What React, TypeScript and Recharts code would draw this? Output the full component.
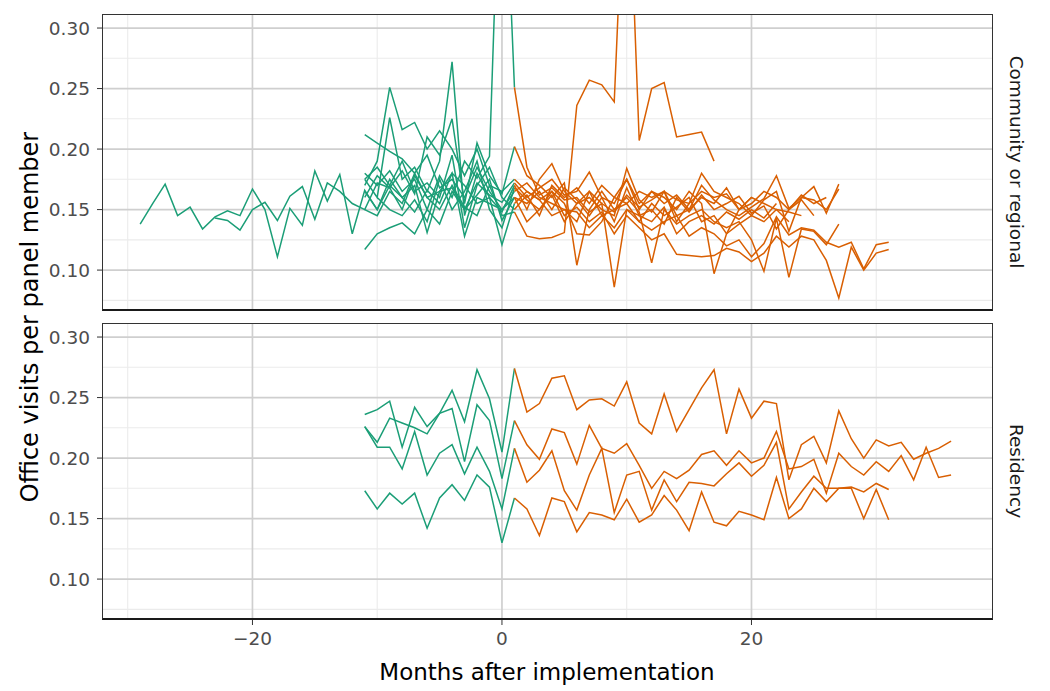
import { LineChart, Line, XAxis, YAxis, CartesianGrid } from "recharts";

const GREEN = "#1b9e77";
const ORANGE = "#d95f02";
const FONT = "'DejaVu Sans', sans-serif";

const X_DOMAIN: [number, number] = [-32.06, 39.36];
const Y_DOMAIN: [number, number] = [0.0662, 0.3116];
const xTicks = [-20, 0, 20];
const xMinor = [-30, -10, 10, 30];
const yTicks = [0.1, 0.15, 0.2, 0.25, 0.3];
const yMinor = [0.075, 0.125, 0.175, 0.225, 0.275];

// ---- Community or regional: before implementation (green) ----
const commPreStart = [-29, -23, -11, -11, -11, -11, -11, -11, -11, -11, -10, -11];
const commPre1 = [0.138, 0.155, 0.171, 0.145, 0.152, 0.134, 0.144, 0.149, 0.145, 0.167, 0.150, 0.111, 0.151, 0.137, 0.182, 0.157, 0.179, 0.130, 0.166, 0.150, 0.170, 0.160, 0.148, 0.166, 0.155, 0.180, 0.128, 0.160, 0.155, 0.150, 0.160];
const commPre2 = [0.143, 0.141, 0.133, 0.150, 0.156, 0.141, 0.161, 0.169, 0.142, 0.172, 0.165, 0.155, 0.150, 0.172, 0.168, 0.150, 0.178, 0.160, 0.165, 0.168, 0.150, 0.172, 0.162, 0.156, 0.172];
const commPre3 = [0.212, 0.205, 0.198, 0.192, 0.180, 0.195, 0.168, 0.175, 0.160, 0.185, 0.165, 0.150, 0.165];
const commPre4 = [0.170, 0.190, 0.251, 0.216, 0.222, 0.200, 0.215, 0.200, 0.178, 0.200, 0.170, 0.165, 0.175];
const commPre5 = [0.175, 0.160, 0.226, 0.175, 0.185, 0.165, 0.190, 0.272, 0.145, 0.180, 0.160, 0.148, 0.170];
const commPre6 = [0.160, 0.178, 0.168, 0.182, 0.163, 0.210, 0.195, 0.225, 0.155, 0.205, 0.178, 0.163, 0.202];
const commPre7 = [0.180, 0.170, 0.182, 0.165, 0.175, 0.150, 0.178, 0.160, 0.190, 0.176, 0.194, 0.500, 0.251];
const commPre8 = [0.117, 0.130, 0.135, 0.139, 0.130, 0.150, 0.138, 0.165, 0.150, 0.162, 0.175, 0.141, 0.160];
const commPre9 = [0.165, 0.150, 0.175, 0.160, 0.170, 0.131, 0.165, 0.180, 0.170, 0.155, 0.160, 0.121, 0.155];
const commPre10 = [0.175, 0.185, 0.170, 0.190, 0.165, 0.172, 0.160, 0.195, 0.135, 0.170, 0.185, 0.160, 0.150];
const commPre11 = [0.160, 0.150, 0.145, 0.158, 0.140, 0.175, 0.150, 0.165, 0.190, 0.150, 0.135, 0.168];
const commPre12 = [0.150, 0.145, 0.165, 0.155, 0.180, 0.160, 0.150, 0.170, 0.152, 0.145, 0.170, 0.145, 0.148];

// ---- Community or regional: after implementation (orange), all from month 1 ----
const commPost1 = [0.160, 0.155, 0.165, 0.150, 0.168, 0.158, 0.145, 0.160, 0.140, 0.168, 0.145, 0.150, 0.138, 0.160, 0.148, 0.162, 0.150, 0.155, 0.161, 0.147, 0.153, 0.134, 0.150, 0.158, 0.145];
const commPost2 = [0.172, 0.160, 0.168, 0.175, 0.162, 0.165, 0.181, 0.160, 0.155, 0.175, 0.150, 0.165, 0.155, 0.162, 0.150, 0.170, 0.158, 0.150, 0.145, 0.152, 0.159, 0.178, 0.151, 0.160, 0.169, 0.147, 0.171];
const commPost3 = [0.165, 0.172, 0.160, 0.155, 0.150, 0.148, 0.135, 0.145, 0.150, 0.155, 0.140, 0.133, 0.140, 0.145, 0.128, 0.135, 0.130, 0.120, 0.125, 0.111, 0.122, 0.144, 0.129, 0.135, 0.133, 0.123, 0.119, 0.123, 0.101, 0.121, 0.123];
const commPost4 = [0.175, 0.165, 0.158, 0.165, 0.145, 0.152, 0.140, 0.148, 0.130, 0.145, 0.135, 0.125, 0.130, 0.113, 0.112, 0.111, 0.112, 0.118, 0.115, 0.107, 0.114, 0.128, 0.119, 0.128, 0.125, 0.108, 0.077, 0.119, 0.100, 0.114, 0.117];
const commPost5 = [0.170, 0.150, 0.175, 0.188, 0.165, 0.155, 0.160, 0.150, 0.145, 0.184, 0.158, 0.148, 0.165, 0.140, 0.155, 0.180, 0.165, 0.160, 0.155, 0.145, 0.158, 0.165, 0.132, 0.160, 0.158, 0.150, 0.167];
const commPost6 = [0.202, 0.178, 0.170, 0.160, 0.172, 0.104, 0.150, 0.165, 0.150, 0.160, 0.148, 0.106, 0.150, 0.138, 0.145, 0.150, 0.140, 0.135, 0.140, 0.125, 0.099, 0.143, 0.094, 0.134, 0.132, 0.121, 0.138];
const commPost7 = [0.251, 0.185, 0.162, 0.168, 0.158, 0.160, 0.148, 0.155, 0.086, 0.150, 0.145, 0.140, 0.152, 0.130, 0.140, 0.145, 0.138, 0.148, 0.142, 0.150, 0.143, 0.155];
const commPost8 = [0.160, 0.140, 0.150, 0.165, 0.155, 0.130, 0.129, 0.140, 0.160, 0.175, 0.155, 0.165, 0.160, 0.150, 0.165, 0.155, 0.097, 0.130, 0.150, 0.160, 0.155, 0.150, 0.148, 0.145];
const commPost9 = [0.155, 0.165, 0.158, 0.145, 0.150, 0.140, 0.165, 0.155, 0.148, 0.162, 0.152, 0.158, 0.165, 0.145, 0.150, 0.160, 0.155, 0.168, 0.150, 0.160];
const commPost10 = [0.150, 0.162, 0.145, 0.170, 0.160, 0.168, 0.155, 0.170, 0.160, 0.155, 0.165, 0.160, 0.165, 0.158, 0.155, 0.165, 0.160, 0.163, 0.150, 0.155, 0.165, 0.160, 0.150, 0.162, 0.155, 0.160];
const commPost11 = [0.168, 0.158, 0.150, 0.162, 0.140, 0.155, 0.165, 0.145, 0.135, 0.150, 0.140, 0.155, 0.145, 0.152, 0.160, 0.140, 0.145, 0.130, 0.138, 0.145, 0.140, 0.150, 0.140];
const commPost12 = [0.148, 0.128, 0.126, 0.127, 0.131, 0.236, 0.257, 0.253, 0.239, 0.480, 0.207, 0.250, 0.255, 0.210, 0.212, 0.214, 0.190];

// ---- Residency ----
const resPreStart = -11;
const resPre1 = [0.236, 0.240, 0.247, 0.209, 0.242, 0.226, 0.237, 0.256, 0.230, 0.273, 0.249, 0.205, 0.274];
const resPre2 = [0.226, 0.213, 0.233, 0.229, 0.225, 0.220, 0.237, 0.241, 0.197, 0.244, 0.231, 0.183, 0.231];
const resPre3 = [0.226, 0.209, 0.209, 0.191, 0.222, 0.186, 0.204, 0.211, 0.187, 0.209, 0.189, 0.158, 0.208];
const resPre4 = [0.173, 0.158, 0.171, 0.162, 0.171, 0.142, 0.167, 0.178, 0.165, 0.186, 0.176, 0.130, 0.167];

const resPost1 = [0.274, 0.238, 0.245, 0.266, 0.268, 0.240, 0.248, 0.249, 0.243, 0.263, 0.229, 0.220, 0.253, 0.222, 0.240, 0.258, 0.273, 0.220, 0.257, 0.233, 0.247, 0.245, 0.182, 0.211, 0.218, 0.196, 0.239, 0.216, 0.200, 0.215, 0.210, 0.213, 0.199, 0.204, 0.208, 0.214];
const resPost2 = [0.231, 0.211, 0.199, 0.224, 0.221, 0.195, 0.227, 0.208, 0.204, 0.212, 0.194, 0.175, 0.189, 0.183, 0.190, 0.203, 0.206, 0.194, 0.206, 0.196, 0.200, 0.222, 0.191, 0.193, 0.199, 0.171, 0.204, 0.193, 0.186, 0.197, 0.189, 0.202, 0.182, 0.209, 0.184, 0.186];
const resPost3 = [0.208, 0.180, 0.190, 0.206, 0.173, 0.157, 0.186, 0.208, 0.155, 0.186, 0.189, 0.157, 0.182, 0.164, 0.180, 0.179, 0.177, 0.187, 0.196, 0.185, 0.194, 0.213, 0.158, 0.172, 0.185, 0.175, 0.175, 0.176, 0.172, 0.179, 0.174];
const resPost4 = [0.167, 0.158, 0.136, 0.167, 0.164, 0.139, 0.155, 0.153, 0.149, 0.166, 0.147, 0.153, 0.169, 0.157, 0.140, 0.172, 0.147, 0.144, 0.156, 0.153, 0.149, 0.184, 0.150, 0.158, 0.175, 0.164, 0.175, 0.175, 0.150, 0.174, 0.149];

const POST_START = 1;

type Series = { key: string; color: string; start: number; values: number[] };

const communitySeries: Series[] = [
  ...[commPre1, commPre2, commPre3, commPre4, commPre5, commPre6, commPre7, commPre8, commPre9, commPre10, commPre11, commPre12]
    .map((values, i) => ({ key: `pre${i}`, color: GREEN, start: commPreStart[i], values })),
  ...[commPost1, commPost2, commPost3, commPost4, commPost5, commPost6, commPost7, commPost8, commPost9, commPost10, commPost11, commPost12]
    .map((values, i) => ({ key: `post${i}`, color: ORANGE, start: POST_START, values })),
];

const residencySeries: Series[] = [
  ...[resPre1, resPre2, resPre3, resPre4].map((values, i) => ({ key: `pre${i}`, color: GREEN, start: resPreStart, values })),
  ...[resPost1, resPost2, resPost3, resPost4].map((values, i) => ({ key: `post${i}`, color: ORANGE, start: POST_START, values })),
];

function buildTable(series: Series[]) {
  const rows: Record<string, number>[] = [];
  for (let m = -29; m <= 36; m++) {
    const row: Record<string, number> = { m };
    series.forEach((s) => {
      const i = m - s.start;
      if (i >= 0 && i < s.values.length) row[s.key] = s.values[i];
    });
    rows.push(row);
  }
  return rows;
}

const fmtX = (v: number) => (v < 0 ? `\u2212${Math.abs(v)}` : `${v}`);
const tickStyle = { fill: "#4d4d4d", fontSize: 18.5, fontFamily: FONT };

function Panel({ series, top, height, bottom, showX }: { series: Series[]; top: number; height: number; bottom: number; showX: boolean }) {
  const data = buildTable(series);
  return (
    <div style={{ position: "absolute", left: 0, top }}>
      <LineChart width={1050} height={height} data={data} margin={{ top: 14, right: 57, bottom, left: 0 }}>
        <CartesianGrid stroke="#ebebeb" strokeWidth={1.1} verticalValues={xMinor} horizontalValues={yMinor} />
        <CartesianGrid stroke="#cfcfcf" strokeWidth={1.7} verticalValues={xTicks} horizontalValues={yTicks} />
        <XAxis
          dataKey="m"
          type="number"
          domain={X_DOMAIN}
          allowDataOverflow
          ticks={xTicks}
          tickFormatter={fmtX}
          hide={!showX}
          height={30}
          tick={tickStyle}
          tickSize={5}
          tickMargin={7}
          tickLine={{ stroke: "#333333" }}
          axisLine={false}
        />
        <YAxis
          type="number"
          domain={Y_DOMAIN}
          allowDataOverflow
          ticks={yTicks}
          tickFormatter={(v: number) => v.toFixed(2)}
          width={102}
          tick={tickStyle}
          tickSize={5}
          tickMargin={7}
          tickLine={{ stroke: "#333333" }}
          axisLine={false}
        />
        {series.map((s) => (
          <Line
            key={s.key}
            dataKey={s.key}
            type="linear"
            stroke={s.color}
            strokeWidth={1.5}
            dot={false}
            activeDot={false}
            isAnimationActive={false}
          />
        ))}
      </LineChart>
      <div
        style={{
          position: "absolute",
          left: 102,
          top: 14,
          width: 891,
          height: 297,
          boxSizing: "border-box",
          border: "1px solid #333333",
          borderBottom: "2px solid #1a1a1a",
          pointerEvents: "none",
        }}
      />
    </div>
  );
}

const stripStyle = {
  position: "absolute" as const,
  left: 1016,
  transform: "translate(-50%, -50%) rotate(90deg)",
  whiteSpace: "nowrap" as const,
  fontFamily: FONT,
  fontSize: 18.5,
  color: "#1a1a1a",
};

export default function App() {
  return (
    <div style={{ position: "absolute", left: 0, top: 0, width: 1050, height: 691, background: "#ffffff", overflow: "hidden" }}>
      <Panel series={communitySeries} top={0} height={320} bottom={9} showX={false} />
      <Panel series={residencySeries} top={309} height={382} bottom={41} showX />
      <div style={{ ...stripStyle, top: 162 }}>Community or regional</div>
      <div style={{ ...stripStyle, top: 471 }}>Residency</div>
      <div
        style={{
          position: "absolute",
          left: 30,
          top: 317,
          transform: "translate(-50%, -50%) rotate(-90deg)",
          whiteSpace: "nowrap",
          fontFamily: FONT,
          fontSize: 24,
          color: "#000000",
        }}
      >
        Office visits per panel member
      </div>
      <div
        style={{
          position: "absolute",
          left: 547,
          top: 672,
          transform: "translate(-50%, -50%)",
          whiteSpace: "nowrap",
          fontFamily: FONT,
          fontSize: 23,
          color: "#000000",
        }}
      >
        Months after implementation
      </div>
    </div>
  );
}
